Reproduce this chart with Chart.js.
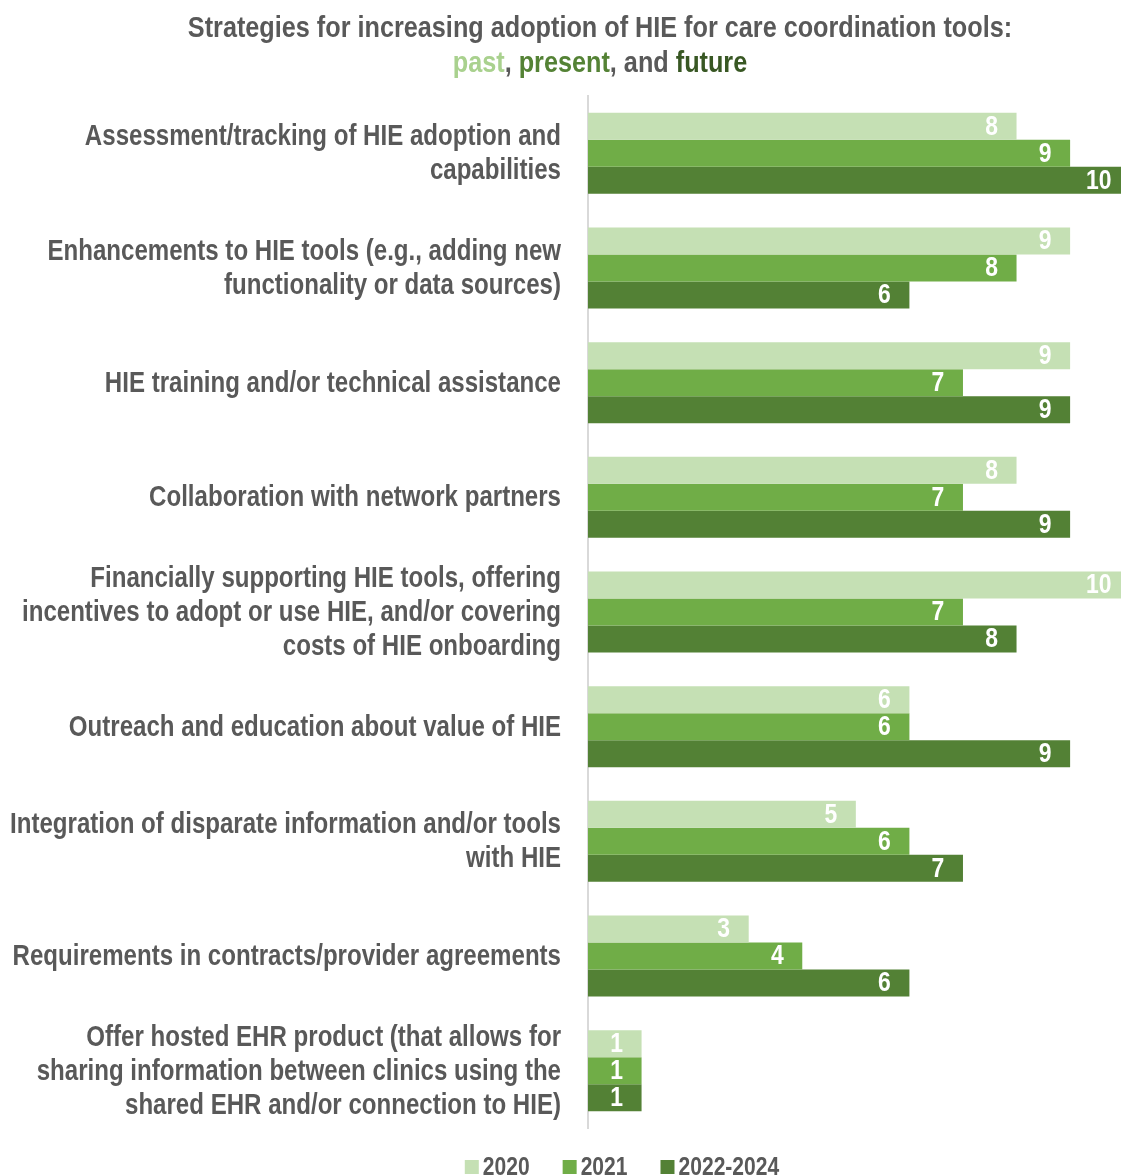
<!DOCTYPE html>
<html lang="en">
<head>
<meta charset="UTF-8">
<title>Strategies for increasing adoption of HIE</title>
<script src="https://cdn.jsdelivr.net/npm/chart.js@4.4.1/dist/chart.umd.min.js"></script>
<style>
    body {
        margin: 0;
        background: #ffffff;
        font-family: "Liberation Sans", Arial, sans-serif;
    }
    #wrap {
        position: relative;
        width: 1121px;
        height: 1176px;
        overflow: hidden;
    }
    #title {
        position: absolute;
        left: 100px;
        width: 1000px;
        top: 10px;
        text-align: center;
        font-weight: bold;
        font-size: 29px;
        line-height: 35px;
        color: #595959;
        transform: scaleX(0.87);
        transform-origin: 50% 0;
    }
    .past { color: #A9D18E; }
    .present { color: #548235; }
    .future { color: #385723; }
</style>
</head>
<body>
<div id="wrap">
    <canvas id="chart" width="1121" height="1176"></canvas>
    <div id="title">Strategies for increasing adoption of HIE for care coordination tools:<br>
        <span class="past">past</span>, <span class="present">present</span>, and <span class="future">future</span></div>
</div>
<script>
    const FONT = '"Liberation Sans", Arial, sans-serif';
    const NARROW = 0.83;  // squeeze factor to get an Arial Narrow look

    const strategies = [
        ['Assessment/tracking of HIE adoption and', 'capabilities'],
        ['Enhancements to HIE tools (e.g., adding new', 'functionality or data sources)'],
        'HIE training and/or technical assistance',
        'Collaboration with network partners',
        ['Financially supporting HIE tools, offering', 'incentives to adopt or use HIE, and/or covering', 'costs of HIE onboarding'],
        'Outreach and education about value of HIE',
        ['Integration of disparate information and/or tools', 'with HIE'],
        'Requirements in contracts/provider agreements',
        ['Offer hosted EHR product (that allows for', 'sharing information between clinics using the', 'shared EHR and/or connection to HIE)']
    ];

    const years = ['2020', '2021', '2022-2024'];
    const counts2020 = [8, 9, 9, 8, 10, 6, 5, 3, 1];
    const counts2021 = [9, 8, 7, 7, 7, 6, 6, 4, 1];
    const counts2022 = [10, 6, 9, 9, 8, 9, 7, 6, 1];
    const barColors = ['#C5E0B4', '#70AD47', '#538135'];

    function narrowText(ctx, text, x, y, squeeze) {
        ctx.save();
        ctx.translate(x, y);
        ctx.scale(squeeze, 1);
        ctx.fillText(text, 0, 0);
        ctx.restore();
    }

    // category labels, drawn condensed next to the y axis
    const narrowLabels = {
        id: 'narrowLabels',
        afterDraw(chart) {
            const ctx = chart.ctx;
            const yScale = chart.scales.y;
            const lineH = 34;
            ctx.save();
            ctx.font = 'bold 29px ' + FONT;
            ctx.fillStyle = '#595959';
            ctx.textAlign = 'right';
            ctx.textBaseline = 'middle';
            chart.data.labels.forEach((label, i) => {
                const lines = Array.isArray(label) ? label : [label];
                const cy = yScale.getPixelForTick(i);
                const y0 = cy - (lines.length - 1) * lineH / 2;
                lines.forEach((line, k) => {
                    narrowText(ctx, line, chart.chartArea.left - 27, y0 + k * lineH + 1, NARROW);
                });
            });
            ctx.restore();
        }
    };

    // white value labels near the end of each bar
    const barValues = {
        id: 'barValues',
        afterDatasetsDraw(chart) {
            const ctx = chart.ctx;
            ctx.save();
            ctx.font = 'bold 27px ' + FONT;
            ctx.fillStyle = '#ffffff';
            ctx.textAlign = 'center';
            ctx.textBaseline = 'middle';
            chart.data.datasets.forEach((ds, i) => {
                chart.getDatasetMeta(i).data.forEach((bar, j) => {
                    narrowText(ctx, String(ds.data[j]), bar.x - 25, bar.y + 1, 0.85);
                });
            });
            ctx.restore();
        }
    };

    // legend row along the bottom edge
    const bottomLegend = {
        id: 'bottomLegend',
        afterDraw(chart) {
            const ctx = chart.ctx;
            const squeeze = 0.81;
            const box = 14, boxGap = 4, itemGap = 33;
            const baseline = 1175;
            ctx.save();
            ctx.font = 'bold 26px ' + FONT;
            ctx.textAlign = 'left';
            ctx.textBaseline = 'alphabetic';
            const widths = chart.data.datasets.map(ds => ctx.measureText(ds.label).width * squeeze);
            const total = widths.reduce((a, w) => a + box + boxGap + w, 0) + itemGap * (widths.length - 1);
            let x = 622 - total / 2;
            chart.data.datasets.forEach((ds, i) => {
                ctx.fillStyle = ds.backgroundColor;
                ctx.fillRect(x, baseline - 15, box, box);
                ctx.fillStyle = '#595959';
                narrowText(ctx, ds.label, x + box + boxGap, baseline, squeeze);
                x += box + boxGap + widths[i] + itemGap;
            });
            ctx.restore();
        }
    };

    new Chart(document.getElementById('chart'), {
        type: 'bar',
        data: {
            labels: strategies,
            datasets: [
                { label: years[0], data: counts2020, backgroundColor: barColors[0] },
                { label: years[1], data: counts2021, backgroundColor: barColors[1] },
                { label: years[2], data: counts2022, backgroundColor: barColors[2] }
            ]
        },
        options: {
            indexAxis: 'y',
            responsive: false,
            animation: false,
            layout: { padding: { top: 96, right: 0, bottom: 48, left: 0 } },
            datasets: {
                bar: { categoryPercentage: 0.707, barPercentage: 1.0 }
            },
            scales: {
                x: {
                    min: 0,
                    max: 9.95,
                    display: false
                },
                y: {
                    grid: { display: false },
                    border: { display: true, color: '#D9D9D9', width: 2 },
                    ticks: { display: false },
                    afterFit(scale) { scale.width = 588; }
                }
            },
            plugins: {
                legend: { display: false },
                tooltip: { enabled: false }
            }
        },
        plugins: [narrowLabels, barValues, bottomLegend]
    });
</script>
</body>
</html>
